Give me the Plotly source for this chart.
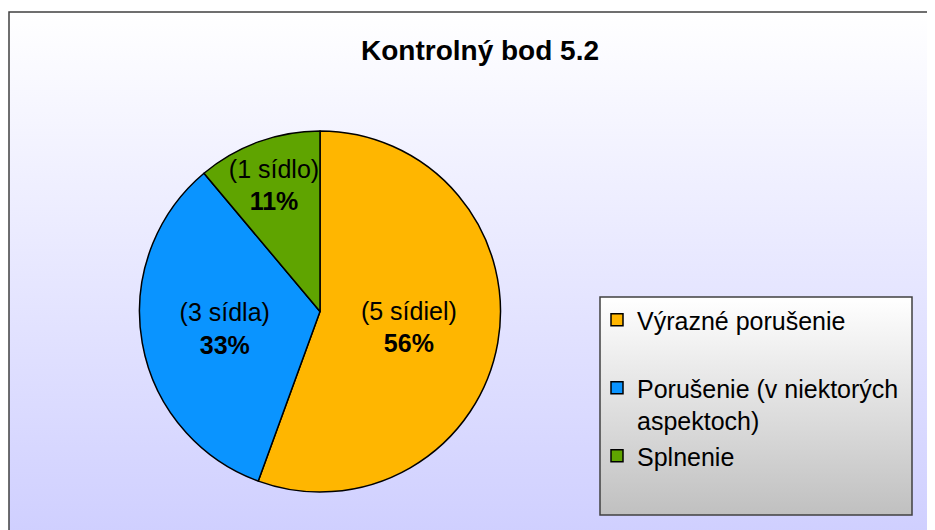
import base64
import plotly.graph_objects as go

title = "Kontrolný bod 5.2"
categories = ["Výrazné porušenie<br> ", "Porušenie (v niektorých<br>aspektoch)", "Splnenie"]
counts = [5, 3, 1]
count_labels = ["(5 sídiel)", "(3 sídla)", "(1 sídlo)"]
colors = ["#FFB600", "#0A94FF", "#5FA400"]

W, H = 935, 530
OX, OY = 8, 8  # page body margin offset


def px(x):
    return (x - OX) / W


def py(y):
    return 1 - (y - OY) / H


def svg_uri(svg):
    return "data:image/svg+xml;base64," + base64.b64encode(svg.encode()).decode()


def grad_svg(c0, c1):
    return (
        '<svg xmlns="http://www.w3.org/2000/svg" width="100" height="100" preserveAspectRatio="none">'
        '<defs><linearGradient id="g" x1="0" y1="0" x2="0" y2="1">'
        f'<stop offset="0" stop-color="{c0}"/><stop offset="1" stop-color="{c1}"/>'
        '</linearGradient></defs><rect width="100" height="100" fill="url(#g)"/></svg>'
    )


FONT = "Liberation Sans, Arial, sans-serif"

fig = go.Figure(
    go.Pie(
        labels=categories,
        values=counts,
        customdata=count_labels,
        sort=False,
        direction="clockwise",
        rotation=0,
        marker=dict(colors=colors, line=dict(color="#000000", width=1.5)),
        textinfo="text",
        texttemplate="%{customdata}<br><b>%{percent:.0%}</b>",
        textposition="inside",
        insidetextorientation="horizontal",
        textfont=dict(family=FONT, size=25, color="#000000"),
        domain=dict(x=[px(137), px(503)], y=[py(492), py(131)]),
        hoverinfo="percent",
    )
)

fig.update_layout(
    width=W,
    height=H,
    margin=dict(l=0, r=0, t=0, b=0),
    paper_bgcolor="#FFFFFF",
    uniformtext=dict(minsize=25, mode="show"),
    title=dict(
        text="<b>" + title + "</b>",
        x=px(480),
        xanchor="center",
        y=py(50),
        yanchor="middle",
        font=dict(family=FONT, size=28, color="#000000"),
    ),
    showlegend=True,
    legend=dict(
        x=px(597),
        y=py(297),
        xanchor="left",
        yanchor="top",
        bgcolor="rgba(0,0,0,0)",
        borderwidth=0,
        font=dict(family=FONT, size=25, color="#000000"),
        valign="top",
        traceorder="normal",
    ),
    images=[
        dict(source=svg_uri(grad_svg("#FFFFFF", "#CCCCFF")), xref="paper", yref="paper",
             x=px(9), y=py(12), sizex=1.05, sizey=1.05, sizing="stretch", layer="below",
             xanchor="left", yanchor="top"),
        dict(source=svg_uri(grad_svg("#FFFFFF", "#C0C0C0")), xref="paper", yref="paper",
             x=px(600), y=py(297), sizex=312 / W, sizey=218 / H, sizing="stretch", layer="below",
             xanchor="left", yanchor="top"),
    ],
    shapes=[
        dict(type="rect", xref="paper", yref="paper", x0=px(9), x1=1.05, y0=-0.05, y1=py(12),
             line=dict(color="#404040", width=1.5), fillcolor="rgba(0,0,0,0)", layer="below"),
        dict(type="rect", xref="paper", yref="paper", x0=px(600), x1=px(912), y0=py(515), y1=py(297),
             line=dict(color="#404040", width=1.5), fillcolor="rgba(0,0,0,0)", layer="below"),
    ],
)

fig.write_html("out.html")
